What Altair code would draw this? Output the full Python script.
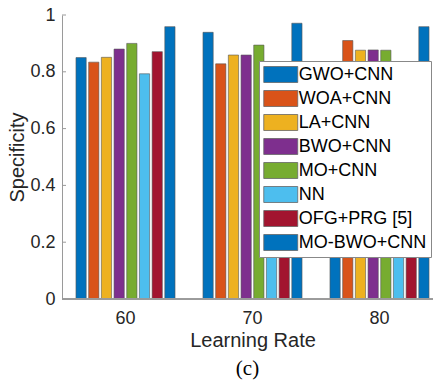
import altair as alt
import pandas as pd

groups = ["60", "70", "80"]
series = ["GWO+CNN", "WOA+CNN", "LA+CNN", "BWO+CNN", "MO+CNN", "NN", "OFG+PRG [5]", "MO-BWO+CNN"]
colors = ["#0072BD", "#D95319", "#EDB120", "#7E2F8E", "#77AC30", "#4DBEEE", "#A2142F", "#0072BD"]

gwo = [0.850, 0.939, 0.830]
woa = [0.834, 0.828, 0.910]
la = [0.851, 0.859, 0.876]
bwo = [0.880, 0.859, 0.877]
mo = [0.900, 0.894, 0.876]
nn = [0.793, 0.800, 0.800]
ofg = [0.871, 0.820, 0.820]
mobwo = [0.959, 0.971, 0.959]

y_ticks = [0, 0.2, 0.4, 0.6, 0.8, 1.0]

vals = [gwo, woa, la, bwo, mo, nn, ofg, mobwo]
rows = []
for s, v in zip(series, vals):
    for g, val in zip(groups, v):
        rows.append({"group": g, "series": s, "value": val})
df = pd.DataFrame(rows)
tick_df = pd.DataFrame({"value": y_ticks})

FONT = "Liberation Sans"
TXT = "#262626"

y_axis = alt.Axis(title="Specificity", values=y_ticks, format="~g", ticks=False,
                  grid=False, domainColor="#9a9a9a", domainWidth=1,
                  labelFontSize=18, labelColor=TXT, labelPadding=7,
                  titleFontSize=20, titleFontWeight="normal", titleColor=TXT,
                  titlePadding=2)
y_scale = alt.Scale(domain=[0, 1])

bars = alt.Chart(df).mark_bar(stroke="#555555", strokeWidth=0.6, opacity=1).encode(
    x=alt.X("group:N", sort=groups,
            scale=alt.Scale(range=[0, 381], paddingInner=0.22, paddingOuter=0.11),
            axis=alt.Axis(title="Learning Rate", domain=False, ticks=False, labelAngle=0,
                          labelFontSize=18, labelColor=TXT, labelPadding=10,
                          titleFontSize=20, titleFontWeight="normal", titleColor=TXT,
                          titlePadding=3)),
    xOffset=alt.XOffset("series:N", sort=series,
                        scale=alt.Scale(paddingInner=0.194, paddingOuter=0)),
    y=alt.Y("value:Q", scale=y_scale, axis=y_axis),
    color=alt.Color("series:N", sort=series,
                    scale=alt.Scale(domain=series, range=colors),
                    legend=alt.Legend(orient="none", legendX=197, legendY=46, title=None,
                                      symbolType="M-1.943,-0.914H1.943V0.914H-1.943Z",
                                      symbolSize=306, symbolOffset=8.25,
                                      symbolStrokeColor="#666666", symbolStrokeWidth=0.8,
                                      symbolOpacity=1, labelFontSize=18, labelColor="#000000",
                                      labelFont=FONT, labelOffset=8.5, labelLimit=300,
                                      padding=4, rowPadding=3, strokeColor="#888888",
                                      fillColor="white")),
)

yticks = alt.Chart(tick_df).mark_rule(color="#9a9a9a", strokeWidth=1).encode(
    y=alt.Y("value:Q", scale=y_scale, axis=y_axis),
    x=alt.value(0),
    x2=alt.value(4),
)

xline = alt.Chart(tick_df).mark_rule(color="#9a9a9a", strokeWidth=1).encode(
    y=alt.datum(0),
    x=alt.value(0),
    x2=alt.value(371),
)

chart = alt.layer(bars, yticks, xline).properties(
    width=371,
    height=284,
    title=alt.TitleParams("(c)", orient="bottom", font="Liberation Serif", fontSize=21,
                          fontWeight="normal", color="#000000", anchor="middle", offset=8),
    autosize=alt.AutoSizeParams(type="none"),
    padding={"left": 54, "top": 7, "right": 0, "bottom": 90},
).configure(font=FONT).configure_view(stroke=None)

chart.save("out.html", embed_options={"renderer": "svg", "actions": False})
